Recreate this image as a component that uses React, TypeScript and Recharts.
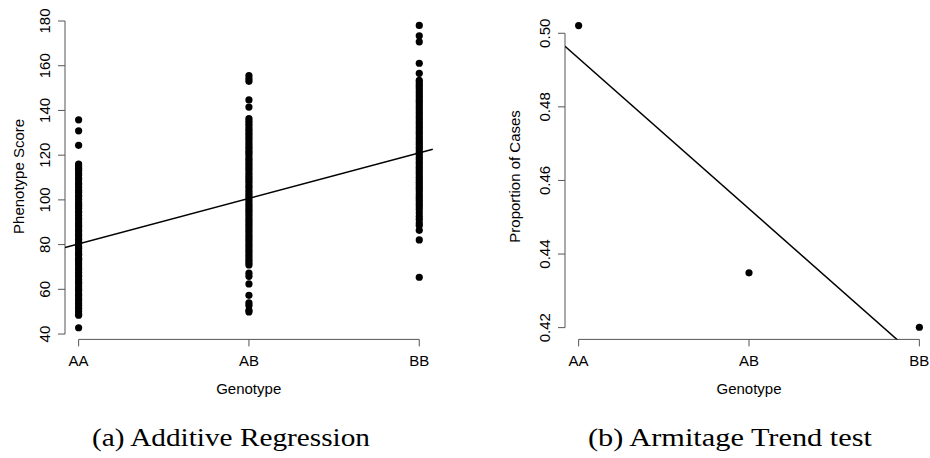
// App.tsx

import {
  ComposedChart,
  Scatter,
  Line,
  XAxis,
  YAxis,
  ReferenceLine,
} from "recharts";

const genotypes = ["AA", "AB", "BB"];

// phenotype scores per genotype (left panel)
const aaScores = [
  135.8, 130.9, 124.4, 116.0, 115.2, 114.1, 113.3, 112.0, 111.1, 109.8, 108.9,
  107.6, 106.8, 105.5, 104.3, 103.4, 102.1, 101.3, 100.2, 99.1, 98.0, 97.2,
  96.1, 95.0, 94.2, 93.0, 91.9, 91.1, 89.8, 88.7, 87.9, 86.6, 85.8, 84.5, 83.6,
  82.4, 81.3, 80.5, 79.2, 78.4, 77.1, 76.0, 75.2, 73.9, 73.0, 71.8, 70.9, 69.6,
  68.8, 67.5, 66.4, 65.6, 64.3, 63.2, 62.4, 61.1, 60.0, 59.2, 57.9, 57.1, 55.8,
  54.9, 53.7, 52.6, 51.5, 50.3, 49.1, 48.4, 42.8,
];
const abScores = [
  155.6, 154.2, 153.0, 144.7, 141.5, 136.4, 135.2, 134.1, 133.0, 131.8, 130.9,
  129.7, 128.6, 127.5, 126.3, 125.2, 124.1, 123.0, 121.8, 120.9, 119.7, 118.5,
  117.6, 116.4, 115.3, 114.2, 113.1, 111.9, 110.8, 109.7, 108.6, 107.5, 106.3,
  105.4, 104.2, 103.1, 102.0, 100.9, 99.8, 98.6, 97.5, 96.4, 95.3, 94.2, 93.1,
  91.9, 90.8, 89.7, 88.6, 87.5, 86.4, 85.3, 84.1, 83.0, 81.9, 80.8, 79.7, 78.6,
  77.4, 76.3, 75.2, 74.1, 73.0, 71.9, 70.9, 67.2, 65.8, 62.4, 57.3, 54.0, 52.8,
  50.6, 49.9,
];
const bbScores = [
  178.0, 173.4, 170.7, 161.1, 156.6, 153.5, 152.4, 151.3, 150.2, 149.1, 148.0,
  146.9, 145.8, 144.6, 143.5, 142.4, 141.3, 140.2, 139.1, 138.0, 136.8, 135.7,
  134.6, 133.5, 132.4, 131.3, 130.2, 129.1, 127.9, 126.8, 125.7, 124.6, 123.5,
  122.4, 121.3, 120.2, 119.0, 117.9, 116.8, 115.7, 114.6, 113.5, 112.4, 111.2,
  110.1, 109.0, 107.9, 106.8, 105.7, 104.6, 103.5, 102.3, 101.2, 100.1, 99.0,
  97.9, 96.8, 95.6, 94.1, 92.6, 91.3, 89.7, 88.5, 86.4, 82.1, 65.4,
];
const scoreTicks = [40, 60, 80, 100, 120, 140, 160, 180];
const regIntercept = 59.95;
const regSlope = 20.35;

// proportion of cases per genotype (right panel)
const caseProportions = [0.5021, 0.4349, 0.4201];
const propTicks = [0.42, 0.44, 0.46, 0.48, 0.5];
const trendIntercept = 0.5341;
const trendSlope = -0.0409;

const xMin = 0.92;
const xMax = 3.08;

const leftPoints = [aaScores, abScores, bbScores].flatMap((vals, i) =>
  vals.map((y) => ({ x: i + 1, y }))
);
const leftFit = [xMin, xMax].map((x) => ({ x, y: regIntercept + regSlope * x }));
const rightPoints = caseProportions.map((y, i) => ({ x: i + 1, y }));
const rightFit = [xMin, xMax].map((x) => ({
  x,
  y: trendIntercept + trendSlope * x,
}));

const SANS = "'Liberation Sans', Arial, Helvetica, sans-serif";
const SERIF = "'Liberation Serif', 'Times New Roman', serif";
const AXIS = "#555";
const FS = 15;

const Dot = (p: any) => <circle cx={p.cx} cy={p.cy} r={3.6} fill="#000" />;

const XTick = ({ x, y, payload }: any) => (
  <text
    x={x}
    y={y + 20}
    textAnchor="middle"
    fontFamily={SANS}
    fontSize={FS}
    fill="#000"
  >
    {genotypes[payload.value - 1]}
  </text>
);

const YTick = ({ x, y, payload, digits }: any) => {
  const tx = x - 8;
  return (
    <text
      x={tx}
      y={y}
      transform={`rotate(-90, ${tx}, ${y})`}
      textAnchor="middle"
      fontFamily={SANS}
      fontSize={FS}
      fill="#000"
    >
      {digits ? Number(payload.value).toFixed(digits) : payload.value}
    </text>
  );
};

function Title({ x, y, text, rotate }: any) {
  return (
    <text
      x={x}
      y={y}
      transform={rotate ? `rotate(-90, ${x}, ${y})` : undefined}
      textAnchor="middle"
      fontFamily={SANS}
      fontSize={FS}
      fill="#000"
    >
      {text}
    </text>
  );
}

export default function App() {
  return (
    <div
      style={{
        position: "absolute",
        left: 0,
        top: 0,
        width: 930,
        height: 458,
        overflow: "hidden",
        background: "#fff",
      }}
    >
      <div style={{ position: "absolute", left: 0, top: 0 }}>
        <ComposedChart
          width={460}
          height={400}
          margin={{ top: 13.4, right: 27.1, bottom: 20.6, left: 0 }}
        >
          <XAxis
            type="number"
            dataKey="x"
            domain={[xMin, xMax]}
            ticks={[1, 2, 3]}
            allowDataOverflow
            axisLine={false}
            tickLine={{ stroke: AXIS }}
            tickSize={7}
            tickMargin={0}
            height={40}
            tick={<XTick />}
          />
          <YAxis
            type="number"
            dataKey="y"
            domain={[37.6, 183.4]}
            ticks={scoreTicks}
            allowDataOverflow
            axisLine={false}
            tickLine={{ stroke: AXIS }}
            tickSize={7}
            tickMargin={0}
            width={65}
            tick={<YTick />}
          />
          <ReferenceLine
            segment={[
              { x: xMin, y: 40 },
              { x: xMin, y: 180 },
            ]}
            stroke={AXIS}
          />
          <ReferenceLine
            segment={[
              { x: 1, y: 37.6 },
              { x: 3, y: 37.6 },
            ]}
            stroke={AXIS}
          />
          <Scatter
            data={leftPoints}
            dataKey="y"
            shape={Dot}
            isAnimationActive={false}
          />
          <Line
            data={leftFit}
            dataKey="y"
            stroke="#000"
            strokeWidth={1.5}
            dot={false}
            activeDot={false}
            isAnimationActive={false}
          />
        </ComposedChart>
      </div>

      <div style={{ position: "absolute", left: 480, top: 0 }}>
        <ComposedChart
          width={460}
          height={400}
          margin={{ top: 13.4, right: 7, bottom: 20.6, left: 0 }}
        >
          <XAxis
            type="number"
            dataKey="x"
            domain={[xMin, xMax]}
            ticks={[1, 2, 3]}
            allowDataOverflow
            axisLine={false}
            tickLine={{ stroke: AXIS }}
            tickSize={7}
            tickMargin={0}
            height={40}
            tick={<XTick />}
          />
          <YAxis
            type="number"
            dataKey="y"
            domain={[0.4168, 0.5054]}
            ticks={propTicks}
            allowDataOverflow
            axisLine={false}
            tickLine={{ stroke: AXIS }}
            tickSize={7}
            tickMargin={0}
            width={85}
            tick={<YTick digits={2} />}
          />
          <ReferenceLine
            segment={[
              { x: xMin, y: 0.42 },
              { x: xMin, y: 0.5 },
            ]}
            stroke={AXIS}
          />
          <ReferenceLine
            segment={[
              { x: 1, y: 0.4168 },
              { x: 3, y: 0.4168 },
            ]}
            stroke={AXIS}
          />
          <Scatter
            data={rightPoints}
            dataKey="y"
            shape={Dot}
            isAnimationActive={false}
          />
          <Line
            data={rightFit}
            dataKey="y"
            stroke="#000"
            strokeWidth={1.5}
            dot={false}
            activeDot={false}
            isAnimationActive={false}
          />
        </ComposedChart>
      </div>

      <svg
        width={930}
        height={458}
        style={{ position: "absolute", left: 0, top: 0, pointerEvents: "none" }}
      >
        <Title x={24} y={176.4} text="Phenotype Score" rotate />
        <Title x={248.7} y={394} text="Genotype" />
        <Title x={520} y={176.4} text="Proportion of Cases" rotate />
        <Title x={749} y={394} text="Genotype" />
        <text
          x={92}
          y={446}
          textLength={278}
          lengthAdjust="spacingAndGlyphs"
          fontFamily={SERIF}
          fontSize={26}
          fill="#000"
        >
          (a) Additive Regression
        </text>
        <text
          x={588}
          y={446}
          textLength={284}
          lengthAdjust="spacingAndGlyphs"
          fontFamily={SERIF}
          fontSize={26}
          fill="#000"
        >
          (b) Armitage Trend test
        </text>
      </svg>
    </div>
  );
}
